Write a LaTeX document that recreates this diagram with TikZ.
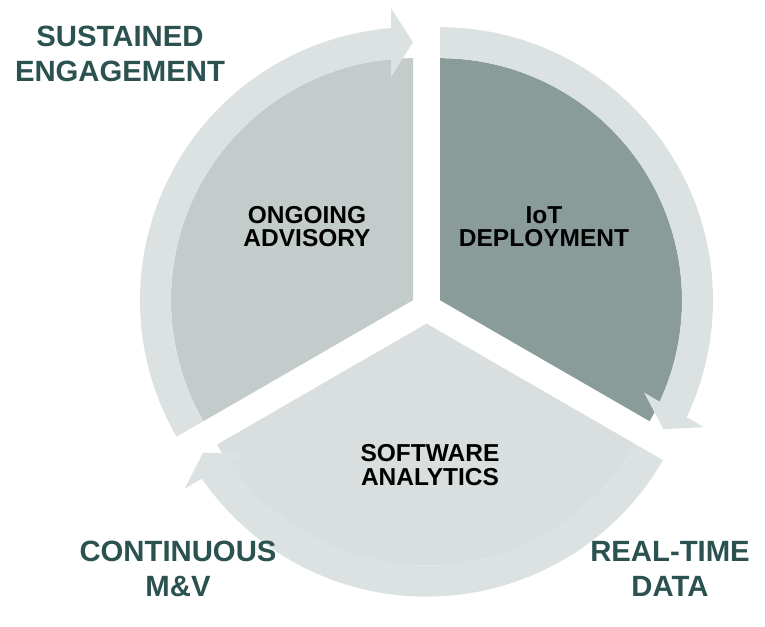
\documentclass[tikz,border=0pt]{standalone}
\usepackage{fontspec}
\setmainfont{Liberation Sans}

\definecolor{segleft}{HTML}{C3CBCB}
\definecolor{segright}{HTML}{8A9C9A}
\definecolor{segbottom}{HTML}{D9DEDE}
\definecolor{ringgrey}{HTML}{DCE2E2}
\definecolor{labelteal}{HTML}{2B5150}

\tikzset{
  inlabel/.style={align=center,inner sep=0pt,text=black,
    font=\bfseries\fontsize{24.5}{23.5}\selectfont},
  outlabel/.style={align=center,inner sep=0pt,text=labelteal,
    font=\bfseries\fontsize{29.3}{35}\selectfont},
}

%% one pie segment: centre, start angle, colour
\newcommand{\cycseg}[3]{%
  \fill[#3] (#1) -- ++(#2:242) arc[start angle=#2,end angle=#2+120,radius=242] -- cycle;}

%% curved arrow on the rim of a segment, head at the start angle
\newcommand{\cycarrow}[2]{%
  \begin{scope}[shift={(#1)},rotate=#2]
    \fill[ringgrey] (120:242) -- (120:273)
      arc[start angle=120,end angle=4.62,radius=273]
      -- (292,22) -- (258,0) -- (223,22) -- (5.22:242)
      arc[start angle=5.22,end angle=120,radius=242] -- cycle;
  \end{scope}}

\begin{document}
\begin{tikzpicture}[x=1pt,y=1pt]
  \useasboundingbox (0,0) rectangle (765,626);

  \coordinate (L) at (413,325.8);
  \coordinate (R) at (440,325.8);
  \coordinate (B) at (426.5,302.4);

  \cycseg{L}{90}{segleft}
  \cycseg{R}{-30}{segright}
  \cycseg{B}{210}{segbottom}

  \cycarrow{L}{90}
  \cycarrow{R}{-30}
  \cycarrow{B}{210}

  \node (ADV) at (307,399.3) [inlabel] {ONGOING\\ADVISORY};
  \node (IOT) at (544,399.3) [inlabel] {IoT\\DEPLOYMENT};
  \node (SOFT) at (430,161) [inlabel] {SOFTWARE\\ANALYTICS};

  \node (SUST) at (120,571.8) [outlabel] {SUSTAINED\\ENGAGEMENT};
  \node (CONT) at (178,57) [outlabel] {CONTINUOUS\\M\&V};
  \node (REAL) at (670,57) [outlabel] {REAL-TIME\\DATA};

\end{tikzpicture}
\end{document}
